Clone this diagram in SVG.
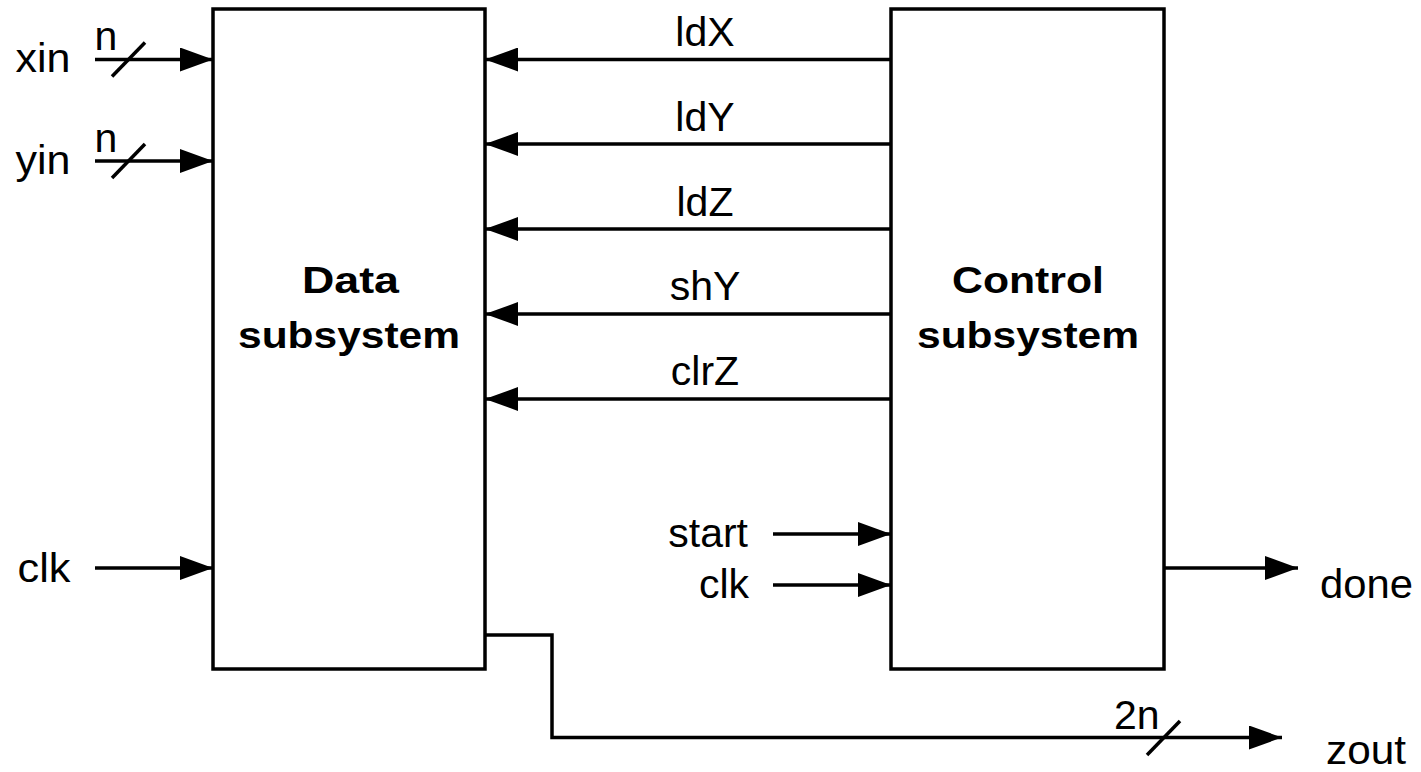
<svg xmlns="http://www.w3.org/2000/svg" width="1421" height="772" viewBox="0 0 1421 772">
<style>
.box{fill:#fff;stroke:#000;stroke-width:3.5}
.w{fill:none;stroke:#000;stroke-width:3.5;stroke-linejoin:miter}
.ar{marker-end:url(#ah)}
.t{font-family:"Liberation Sans",Arial,sans-serif;font-size:41px;fill:#000}
.b{font-family:"Liberation Sans",Arial,sans-serif;font-size:36px;font-weight:bold;fill:#000;text-anchor:middle}
.m{text-anchor:middle}
.e{text-anchor:end}
</style>
<defs>
<marker id="ah" markerUnits="userSpaceOnUse" markerWidth="34" markerHeight="24" refX="33" refY="12" orient="auto">
<path d="M0,0 L33,12 L0,24 Z" fill="#000"/>
</marker>
</defs>
<g id="data">
<rect class="box" x="213" y="9" width="272" height="660"/>
<text class="b" x="350.5" y="293" textLength="97" lengthAdjust="spacingAndGlyphs">Data</text>
<text class="b" x="349" y="348" textLength="222" lengthAdjust="spacingAndGlyphs">subsystem</text>
</g>
<g id="control">
<rect class="box" x="891" y="9" width="273" height="660"/>
<text class="b" x="1028" y="293" textLength="152" lengthAdjust="spacingAndGlyphs">Control</text>
<text class="b" x="1028" y="348" textLength="222" lengthAdjust="spacingAndGlyphs">subsystem</text>
</g>
<g id="connectors">
<path class="w ar" d="M95,59.5 H213"/>
<path class="w" d="M112,76.5 L145,42.5"/>
<path class="w ar" d="M95,161 H213"/>
<path class="w" d="M112,178 L145,144"/>
<path class="w ar" d="M95,568 H213"/>
<path class="w ar" d="M891,59.5 H485"/>
<path class="w ar" d="M891,144 H485"/>
<path class="w ar" d="M891,229 H485"/>
<path class="w ar" d="M891,314 H485"/>
<path class="w ar" d="M891,399 H485"/>
<path class="w ar" d="M773,534 H891"/>
<path class="w ar" d="M773,585 H891"/>
<path class="w ar" d="M1164,568 H1298"/>
<path class="w ar" d="M485,635 H552 V737.5 H1282"/>
<path class="w" d="M1147,755 L1180,721"/>
</g>
<g id="labels">
<text class="t" x="15.5" y="72" textLength="55" lengthAdjust="spacingAndGlyphs">xin</text>
<text class="t" x="15.5" y="174" textLength="55" lengthAdjust="spacingAndGlyphs">yin</text>
<text class="t" x="94.5" y="50">n</text>
<text class="t" x="94.5" y="152">n</text>
<text class="t" x="17.5" y="582" textLength="53" lengthAdjust="spacingAndGlyphs">clk</text>
<text class="t m" x="705" y="46">ldX</text>
<text class="t m" x="705" y="131">ldY</text>
<text class="t m" x="705" y="216">ldZ</text>
<text class="t m" x="705" y="300">shY</text>
<text class="t m" x="705" y="385">clrZ</text>
<text class="t e" x="748" y="547">start</text>
<text class="t e" x="749" y="598">clk</text>
<text class="t" x="1320" y="598" textLength="93" lengthAdjust="spacingAndGlyphs">done</text>
<text class="t" x="1114" y="729">2n</text>
<text class="t" x="1326" y="764" textLength="80" lengthAdjust="spacingAndGlyphs">zout</text>
</g>
</svg>
